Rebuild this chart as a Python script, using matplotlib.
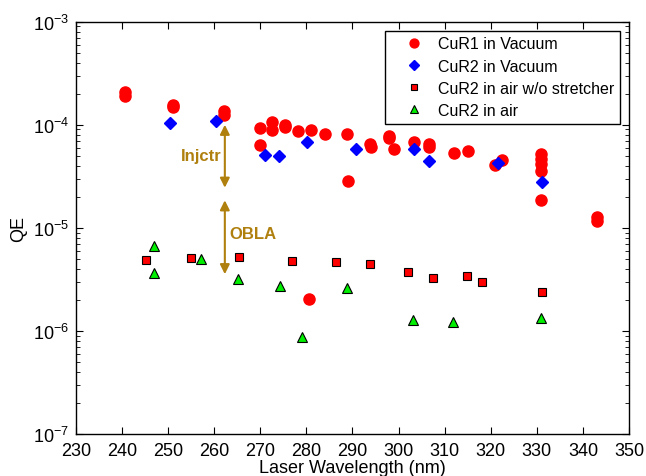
import numpy as np
import matplotlib.pyplot as plt
from matplotlib.ticker import LogLocator, NullFormatter, MultipleLocator

plt.rcParams['font.family'] = ['Liberation Sans', 'DejaVu Sans']

# CuR1 in vacuum
cur1_wl = [240.6, 240.6, 251.0, 251.0, 262.2, 262.2, 270.0, 270.0, 272.5, 272.5,
           275.4, 275.4, 278.2, 280.9, 284.1, 288.9, 289.0, 293.8, 294.0, 298.0,
           298.0, 299.1, 303.4, 306.5, 306.5, 312.1, 315.1, 320.9, 322.4, 330.8,
           330.8, 330.8, 330.8, 330.8, 343.1, 343.1, 280.6]
cur1_qe = [2.08e-4, 1.90e-4, 1.54e-4, 1.49e-4, 1.37e-4, 1.25e-4, 9.25e-5, 6.37e-5, 1.07e-4, 8.9e-5,
           1.0e-4, 9.6e-5, 8.65e-5, 8.96e-5, 8.14e-5, 8.14e-5, 2.83e-5, 6.52e-5, 6.05e-5, 7.83e-5,
           7.39e-5, 5.82e-5, 6.76e-5, 6.52e-5, 6.05e-5, 5.30e-5, 5.57e-5, 4.07e-5, 4.53e-5, 5.21e-5,
           4.66e-5, 4.17e-5, 3.59e-5, 1.88e-5, 1.26e-5, 1.17e-5, 2.05e-6]

# CuR2 in vacuum
cur2v_wl = [250.4, 260.4, 271.0, 274.1, 280.2, 290.7, 303.4, 306.5, 321.5, 331.1]
cur2v_qe = [1.04e-4, 1.10e-4, 5.06e-5, 4.94e-5, 6.85e-5, 5.82e-5, 5.82e-5, 4.49e-5, 4.26e-5, 2.77e-5]

# CuR2 in air w/o stretcher
cur2s_wl = [245.3, 254.9, 265.4, 276.9, 286.4, 293.8, 302.0, 307.5, 314.8, 318.2, 331.1]
cur2s_qe = [4.85e-6, 5.14e-6, 5.19e-6, 4.75e-6, 4.67e-6, 4.43e-6, 3.71e-6, 3.24e-6, 3.39e-6, 3.01e-6, 2.40e-6]

# CuR2 in air
cur2a_wl = [246.9, 246.9, 257.1, 265.1, 274.3, 279.1, 288.9, 303.1, 311.9, 330.9]
cur2a_qe = [6.6e-6, 3.67e-6, 4.93e-6, 3.17e-6, 2.74e-6, 8.8e-7, 2.61e-6, 1.28e-6, 1.21e-6, 1.34e-6]

fig = plt.figure(figsize=(6.46, 4.77), dpi=100)
ax = fig.add_axes([0.1176, 0.0881, 0.8561, 0.8643])

ax.plot(cur1_wl, cur1_qe, 'o', color='#ff0000', mec='#ff0000', ms=8, ls='none', label='CuR1 in Vacuum')
ax.plot(cur2v_wl, cur2v_qe, 'D', color='#0000ff', mec='#0000ff', ms=6, ls='none', label='CuR2 in Vacuum')
ax.plot(cur2s_wl, cur2s_qe, 's', color='#ff0000', mec='black', mew=0.8, ms=5.5, ls='none',
        label='CuR2 in air w/o stretcher')
ax.plot(cur2a_wl, cur2a_qe, '^', color='#00ee00', mec='black', mew=0.8, ms=7, ls='none', label='CuR2 in air')

gold = '#B0800F'
ax.annotate('', xy=(262.3, 2.45e-5), xytext=(262.3, 1.0e-4),
            arrowprops=dict(arrowstyle='<|-|>', color=gold, lw=1.5, mutation_scale=14, shrinkA=0, shrinkB=0))
ax.annotate('', xy=(262.3, 3.55e-6), xytext=(262.3, 1.85e-5),
            arrowprops=dict(arrowstyle='<|-|>', color=gold, lw=1.5, mutation_scale=14, shrinkA=0, shrinkB=0))
ax.text(261.5, 5.0e-5, 'Injctr', color=gold, fontsize=12, fontweight='bold', ha='right', va='center')
ax.text(263.3, 8.9e-6, 'OBLA', color=gold, fontsize=12, fontweight='bold', ha='left', va='center')

ax.set_yscale('log')
ax.set_xlim(230, 350)
ax.set_ylim(1e-7, 1e-3)
ax.xaxis.set_major_locator(MultipleLocator(10))
ax.yaxis.set_major_locator(LogLocator(base=10, numticks=10))
ax.yaxis.set_minor_locator(LogLocator(base=10, subs=np.arange(2, 10), numticks=10))
ax.yaxis.set_minor_formatter(NullFormatter())
ax.tick_params(which='both', direction='in', top=True, right=True, labelsize=13)
ax.tick_params(which='major', length=5)
ax.tick_params(which='minor', length=3)
ax.tick_params(axis='x', pad=6)
ax.tick_params(axis='y', pad=5)
for s in ax.spines.values():
    s.set_linewidth(1.0)

ax.set_xlabel('Laser Wavelength (nm)', fontsize=13, labelpad=0)
ax.set_ylabel('QE', fontsize=13)

leg = ax.legend(loc='upper right', fontsize=11.5, frameon=True, fancybox=False, framealpha=1,
                edgecolor='black', borderpad=0.35, labelspacing=0.45, handlelength=2.9,
                handletextpad=0.1, markerscale=0.8, bbox_to_anchor=(0.984, 0.978), borderaxespad=0)
leg.get_frame().set_linewidth(1.0)

fig.savefig('out.png', dpi=100)
